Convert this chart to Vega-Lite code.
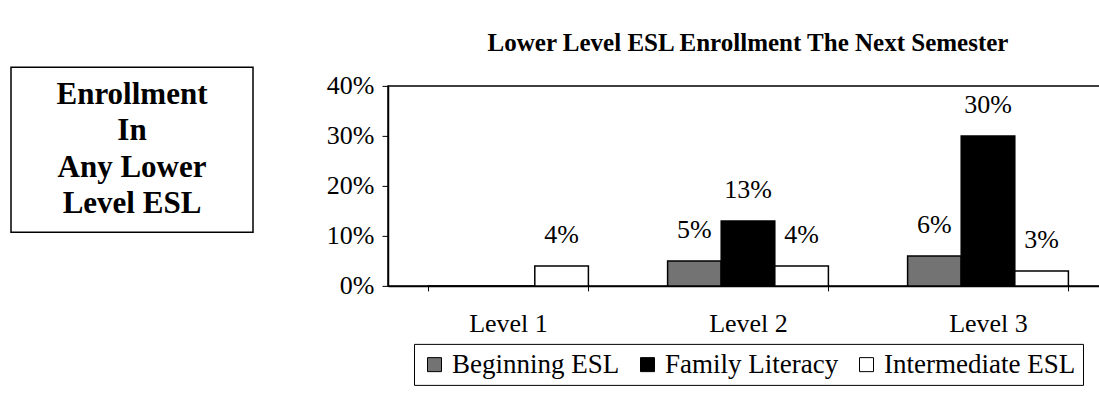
{
  "$schema": "https://vega.github.io/schema/vega-lite/v6.json",
  "padding": {"left": 10, "top": 30, "right": 0, "bottom": 0},
  "background": "white",
  "spacing": 71,
  "center": true,
  "config": {
    "view": {"stroke": "black", "strokeWidth": 1.5},
    "font": "Liberation Serif",
    "legend": {"layout": {"bottom": {"anchor": "middle"}}}
  },
  "resolve": {"scale": {"fill": "independent"}, "legend": {"fill": "independent"}},
  "hconcat": [
    {
      "width": 242,
      "height": 165,
      "title": {"text": " ", "orient": "bottom", "fontSize": 10, "offset": 162},
      "data": {"values": [
        {"line": 1, "text": "Enrollment"},
        {"line": 2, "text": "In"},
        {"line": 3, "text": "Any Lower"},
        {"line": 4, "text": "Level ESL"}
      ]},
      "mark": {"type": "text", "font": "Liberation Serif", "fontWeight": "bold", "fontSize": 31, "baseline": "middle", "color": "black"},
      "encoding": {
        "y": {"field": "line", "type": "ordinal", "scale": {"type": "point", "padding": 0.77}, "axis": null},
        "text": {"field": "text"}
      }
    },
    {
      "width": 720,
      "height": 200,
      "title": {"text": "Lower Level ESL Enrollment The Next Semester", "font": "Liberation Serif", "fontSize": 25, "fontWeight": "bold", "color": "black", "offset": 17},
      "data": {"values": [
        {"level": "Level 1", "series": "Beginning ESL", "value": 0},
        {"level": "Level 1", "series": "Family Literacy", "value": 0},
        {"level": "Level 1", "series": "Intermediate ESL", "value": 0.04},
        {"level": "Level 2", "series": "Beginning ESL", "value": 0.05},
        {"level": "Level 2", "series": "Family Literacy", "value": 0.13},
        {"level": "Level 2", "series": "Intermediate ESL", "value": 0.04},
        {"level": "Level 3", "series": "Beginning ESL", "value": 0.06},
        {"level": "Level 3", "series": "Family Literacy", "value": 0.30},
        {"level": "Level 3", "series": "Intermediate ESL", "value": 0.03}
      ]},
      "encoding": {
        "x": {
          "field": "level", "type": "nominal",
          "scale": {"paddingInner": 0.33, "paddingOuter": 0.165},
          "axis": {"title": null, "labelAngle": 0, "labelFont": "Liberation Serif", "labelFontSize": 26, "labelColor": "black", "labelPadding": 20, "tickSize": 5, "tickColor": "black", "tickBand": "extent", "domainColor": "black", "domainWidth": 1.5}
        },
        "xOffset": {"field": "series", "type": "nominal", "scale": {"domain": ["Beginning ESL", "Family Literacy", "Intermediate ESL"]}},
        "y": {
          "field": "value", "type": "quantitative",
          "scale": {"domain": [0, 0.4]},
          "axis": {"title": null, "format": ".0%", "values": [0, 0.1, 0.2, 0.3, 0.4], "grid": false, "labelFont": "Liberation Serif", "labelFontSize": 26, "labelColor": "black", "labelPadding": 8, "tickSize": 6, "tickColor": "black", "domainColor": "black", "domainWidth": 1.5}
        }
      },
      "layer": [
        {
          "mark": {"type": "bar", "stroke": "black", "strokeWidth": 1.5},
          "encoding": {
            "fill": {
              "field": "series", "type": "nominal",
              "scale": {"domain": ["Beginning ESL", "Family Literacy", "Intermediate ESL"], "range": ["#737373", "#000000", "#ffffff"]},
              "legend": {"title": null, "orient": "bottom", "direction": "horizontal", "strokeColor": "black", "padding": 7, "offset": 7, "labelFont": "Liberation Serif", "labelFontSize": 27, "labelColor": "black", "labelLimit": 0, "symbolType": "square", "symbolSize": 196, "symbolStrokeColor": "black", "symbolStrokeWidth": 1, "symbolOpacity": 1, "columnPadding": 14, "labelOffset": 4}
            }
          }
        },
        {
          "transform": [{"filter": "datum.value > 0"}],
          "mark": {"type": "text", "baseline": "middle", "dy": -31, "font": "Liberation Serif", "fontSize": 26, "color": "black"},
          "encoding": {"text": {"field": "value", "type": "quantitative", "format": ".0%"}}
        }
      ]
    }
  ]
}
